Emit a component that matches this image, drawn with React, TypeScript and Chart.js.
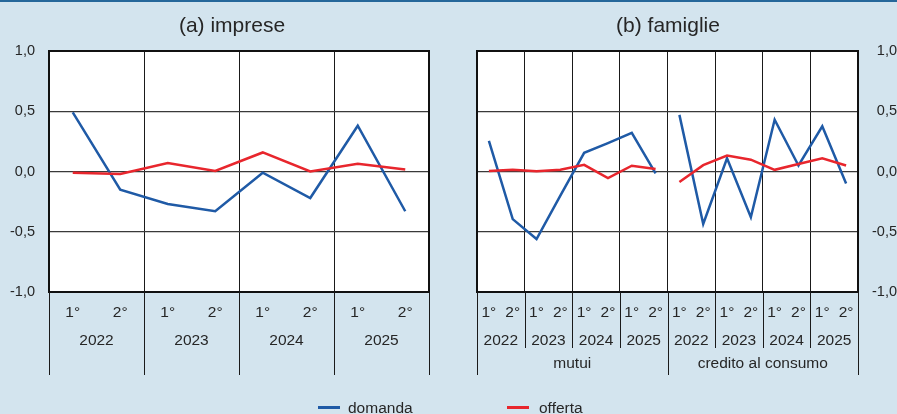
import React, { useEffect, useRef } from 'react';
import { Chart, registerables } from 'chart.js';

Chart.register(...registerables);

const FONT = '"Liberation Sans", Arial, Helvetica, sans-serif';
const TEXT = '#262626';
const BLUE = '#1f5aa6';
const RED = '#e8262d';

// ---- data ----
const halves = ['1°', '2°'];
const years = ['2022', '2023', '2024', '2025'];
const groups = ['mutui', 'credito al consumo'];
const yTickValues = [-1, -0.5, 0, 0.5, 1];

const impreseDomanda = [0.49, -0.15, -0.27, -0.33, -0.01, -0.22, 0.38, -0.33];
const impreseOfferta = [-0.01, -0.02, 0.07, 0.005, 0.158, 0.0, 0.064, 0.017];

const mutuiDomanda = [0.255, -0.395, -0.56, -0.2, 0.155, 0.235, 0.32, -0.015];
const mutuiOfferta = [0.005, 0.015, 0.003, 0.015, 0.055, -0.055, 0.048, 0.02];
const consumoDomanda = [0.47, -0.435, 0.11, -0.38, 0.43, 0.05, 0.375, -0.1];
const consumoOfferta = [-0.087, 0.053, 0.132, 0.098, 0.014, 0.062, 0.11, 0.05];

const legendItems = [
  { label: 'domanda', color: BLUE },
  { label: 'offerta', color: RED },
];

// ---- helpers ----
const yearHalfLabels = years.flatMap(() => halves);
const fmt = (v: number) => v.toFixed(1).replace('.', ',');

function decorPlugin(title: string, titleShift: number, groupLabels: string[] | null) {
  return {
    id: 'panelDecor',
    beforeDraw(chart: any) {
      const { ctx, chartArea: a } = chart;
      ctx.save();
      ctx.fillStyle = '#ffffff';
      ctx.fillRect(a.left, a.top, a.right - a.left, a.bottom - a.top);
      ctx.restore();
    },
    afterDraw(chart: any) {
      const { ctx, chartArea: a, scales } = chart;
      const x = scales.x;
      const n = x.getLabels().length;
      const perGroup = groupLabels ? n / groupLabels.length : n;
      ctx.save();
      // title
      ctx.fillStyle = TEXT;
      ctx.font = `21px ${FONT}`;
      ctx.textAlign = 'center';
      ctx.textBaseline = 'alphabetic';
      ctx.fillText(title, (a.left + a.right) / 2 + titleShift, 31.5);
      // frame
      ctx.strokeStyle = '#111';
      ctx.lineWidth = 2;
      ctx.strokeRect(a.left, a.top, a.right - a.left, a.bottom - a.top);
      // separators below plot
      ctx.lineWidth = 1;
      ctx.strokeStyle = '#1a1a1a';
      for (let k = 0; k <= n; k += 2) {
        const px = Math.round(x.getPixelForValue(k - 0.5)) + 0.5;
        let yEnd = 375;
        if (groupLabels && k % perGroup !== 0) yEnd = 348;
        ctx.beginPath();
        ctx.moveTo(px, a.bottom);
        ctx.lineTo(px, yEnd);
        ctx.stroke();
      }
      // year labels
      ctx.font = `15.5px ${FONT}`;
      for (let k = 0; k < n; k += 2) {
        ctx.fillText(years[(k / 2) % years.length], x.getPixelForValue(k + 0.5), 344.5);
      }
      // group labels
      if (groupLabels) {
        groupLabels.forEach((g, i) => {
          ctx.fillText(g, x.getPixelForValue(i * perGroup + (perGroup - 1) / 2), 367.7);
        });
      }
      ctx.restore();
    },
  };
}

function makeConfig(
  labels: string[],
  datasets: any[],
  yPosition: 'left' | 'right',
  yWidth: number,
  padding: any,
  plugin: any
): any {
  return {
    type: 'line',
    data: { labels, datasets },
    plugins: [plugin],
    options: {
      responsive: false,
      maintainAspectRatio: false,
      animation: false,
      devicePixelRatio: 1,
      layout: { padding },
      plugins: {
        legend: { display: false },
        title: { display: false },
        tooltip: { enabled: false },
      },
      elements: {
        point: { radius: 0, hoverRadius: 0 },
        line: { borderWidth: 2.5, tension: 0, borderCapStyle: 'butt', borderJoinStyle: 'miter' },
      },
      scales: {
        x: {
          type: 'category',
          offset: true,
          grid: {
            offset: true,
            drawTicks: false,
            color: (c: any) => (c.index % 2 === 0 ? '#1a1a1a' : 'rgba(0,0,0,0)'),
            lineWidth: 1,
          },
          border: { display: false },
          ticks: {
            autoSkip: false,
            maxRotation: 0,
            minRotation: 0,
            padding: 11,
            color: TEXT,
            font: { family: FONT, size: 15.5 },
          },
          afterFit: (s: any) => {
            s.height = 414 - 292;
          },
        },
        y: {
          position: yPosition,
          min: -1,
          max: 1,
          afterBuildTicks: (s: any) => {
            s.ticks = yTickValues.map((v) => ({ value: v }));
          },
          grid: {
            drawTicks: false,
            color: '#3a3a3a',
            lineWidth: 1.2,
          },
          border: { display: false },
          ticks: {
            padding: 14,
            crossAlign: yPosition === 'right' ? 'far' : 'near',
            color: TEXT,
            font: { family: FONT, size: 14.5 },
            callback: (v: any) => fmt(Number(v)),
          },
          afterFit: (s: any) => {
            s.width = yWidth;
          },
        },
      },
    },
  };
}

const pad = (arr: number[], before: number, after: number) => [
  ...Array(before).fill(null),
  ...arr,
  ...Array(after).fill(null),
];

export default function App() {
  const leftRef = useRef<HTMLCanvasElement>(null);
  const rightRef = useRef<HTMLCanvasElement>(null);

  useEffect(() => {
    const left = new Chart(
      leftRef.current as HTMLCanvasElement,
      makeConfig(
        yearHalfLabels,
        [
          { label: 'offerta', data: impreseOfferta, borderColor: RED, fill: false },
          { label: 'domanda', data: impreseDomanda, borderColor: BLUE, fill: false },
        ],
        'left',
        49,
        { top: 51, left: 0, right: 19, bottom: 0 },
        decorPlugin('(a) imprese', -7, null)
      )
    );
    const famLabels = [...yearHalfLabels, ...yearHalfLabels];
    const nm = mutuiDomanda.length;
    const nc = consumoDomanda.length;
    const right = new Chart(
      rightRef.current as HTMLCanvasElement,
      makeConfig(
        famLabels,
        [
          { label: 'offerta', data: pad(mutuiOfferta, 0, nc), borderColor: RED, fill: false, spanGaps: false },
          { label: 'offerta', data: pad(consumoOfferta, nm, 0), borderColor: RED, fill: false, spanGaps: false },
          { label: 'domanda', data: pad(mutuiDomanda, 0, nc), borderColor: BLUE, fill: false, spanGaps: false },
          { label: 'domanda', data: pad(consumoDomanda, nm, 0), borderColor: BLUE, fill: false, spanGaps: false },
        ],
        'right',
        39,
        { top: 51, left: 29, right: 0, bottom: 0 },
        decorPlugin('(b) famiglie', 0.5, groups)
      )
    );
    return () => {
      left.destroy();
      right.destroy();
    };
  }, []);

  const legendPos = [
    { lineLeft: 318, textLeft: 348 },
    { lineLeft: 507, textLeft: 539 },
  ];

  return (
    <div
      style={{
        position: 'fixed',
        left: 0,
        top: 0,
        width: 897,
        height: 414,
        background: '#d3e4ee',
        overflow: 'hidden',
        fontFamily: FONT,
      }}
    >
      <div style={{ position: 'absolute', left: 0, top: 0, width: 897, height: 2, background: '#25679a' }} />
      <canvas
        ref={leftRef}
        width={448}
        height={414}
        style={{ position: 'absolute', left: 0, top: 0, width: 448, height: 414 }}
      />
      <canvas
        ref={rightRef}
        width={449}
        height={414}
        style={{ position: 'absolute', left: 448, top: 0, width: 449, height: 414 }}
      />
      {legendItems.map((it, i) => (
        <React.Fragment key={it.label}>
          <div
            style={{
              position: 'absolute',
              left: legendPos[i].lineLeft,
              top: 406,
              width: 22,
              height: 3,
              background: it.color,
            }}
          />
          <span
            style={{
              position: 'absolute',
              left: legendPos[i].textLeft,
              top: 400,
              fontSize: 15.5,
              lineHeight: 1,
              color: TEXT,
              whiteSpace: 'nowrap',
            }}
          >
            {it.label}
          </span>
        </React.Fragment>
      ))}
    </div>
  );
}
